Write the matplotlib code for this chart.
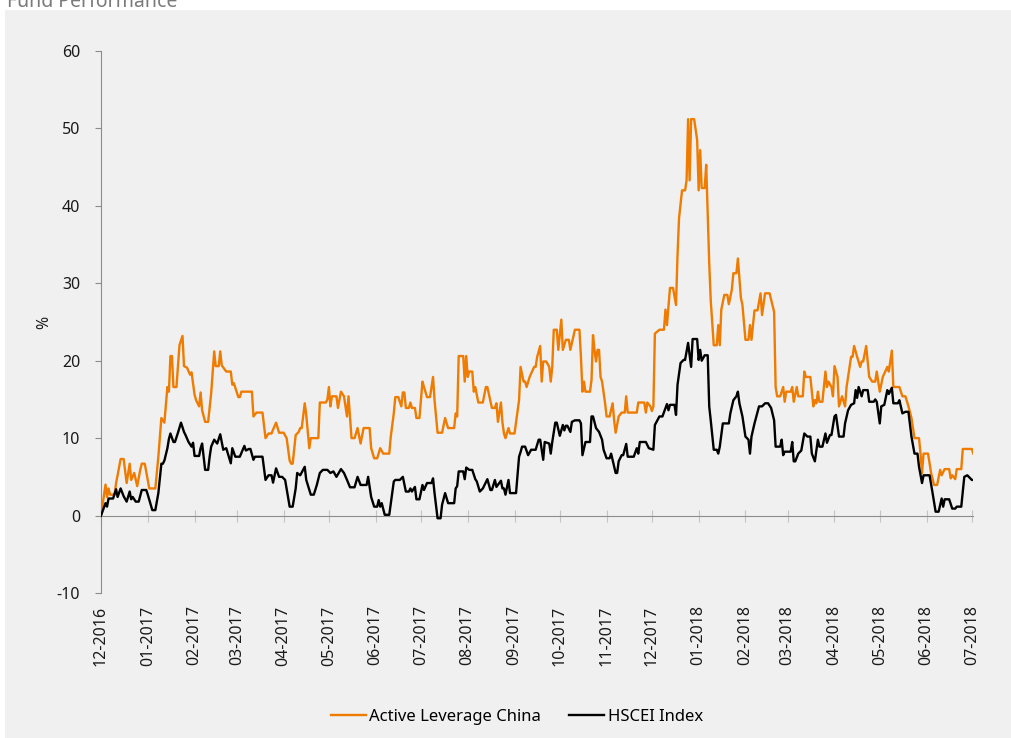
import pandas as pd
import matplotlib
matplotlib.use("Agg")
import matplotlib.pyplot as plt
import matplotlib.dates as mdates
from matplotlib.patches import Rectangle

plt.rcParams['font.family'] = ['Noto Sans', 'DejaVu Sans']
plt.rcParams['axes.unicode_minus'] = False

# data: days since 2016-12-01 and cumulative performance in %
start = pd.Timestamp('2016-12-01')

fund_days = [0, 3, 4, 5, 6, 9, 10, 11, 13, 15, 17, 19, 20, 22, 24, 26, 27, 29, 31, 32,
             36, 38, 40, 42, 44, 45, 46, 47, 48, 50, 52, 54, 55, 57, 59, 60, 62, 63, 65, 66,
             67, 69, 71, 73, 75, 76, 78, 79, 80, 83, 86, 87, 88, 91, 92, 93, 100, 101, 103, 107,
             109, 111, 113, 114, 116, 118, 121, 123, 125, 126, 127, 129, 131, 132, 133, 135, 136, 138, 139, 144,
             145, 149, 150, 151, 152, 153, 156, 157, 159, 161, 163, 164, 166, 168, 170, 172, 174, 178, 179, 181,
             183, 185, 187, 191, 192, 194, 195, 197, 199, 200, 201, 202, 204, 205, 206, 208, 209, 211, 213, 214,
             216, 218, 219, 220, 221, 223, 226, 228, 230, 234, 235, 236, 237, 240, 241, 242, 243, 244, 246, 247,
             248, 250, 253, 255, 256, 259, 261, 262, 263, 265, 266, 267, 268, 270, 271, 274, 277, 278, 280, 281,
             282, 284, 287, 288, 289, 291, 292, 293, 295, 297, 298, 299, 300, 302, 303, 305, 306, 308, 310, 311,
             314, 317, 318, 319, 320, 321, 324, 325, 326, 327, 328, 329, 330, 331, 332, 334, 335, 337, 339, 340,
             341, 343, 345, 347, 348, 349, 355, 356, 360, 361, 362, 364, 365, 366, 367, 370, 373, 374, 375, 377,
             379, 381, 382, 383, 385, 387, 388, 389, 390, 391, 393, 395, 396, 397, 398, 400, 401, 403, 404, 406,
             408, 409, 410, 411, 413, 415, 416, 418, 419, 421, 422, 424, 425, 427, 429, 430, 431, 433, 435, 437,
             438, 440, 443, 446, 447, 448, 450, 452, 453, 454, 457, 458, 459, 461, 462, 465, 466, 467, 470, 472,
             473, 474, 475, 476, 478, 480, 481, 482, 484, 485, 486, 488, 489, 491, 493, 494, 495, 497, 498, 499,
             501, 503, 504, 505, 507, 509, 511, 513, 514, 516, 518, 521, 522, 524, 525, 529, 531, 533, 535, 537,
             539, 542, 543, 544, 545, 548, 550, 552, 554, 556, 557, 559, 562, 563, 564, 566, 567, 570, 571, 577,
             578]
fund = [0.0, 4.0, 2.4, 3.5, 2.7, 2.7, 4.2, 5.2, 7.3, 7.3, 4.2, 6.7, 4.6, 5.5, 3.8, 5.9, 6.7, 6.7, 4.6, 3.5,
        3.5, 7.6, 12.6, 12.0, 16.6, 16.0, 20.6, 20.6, 16.6, 16.6, 22.0, 23.2, 19.3, 19.1, 18.2, 18.5, 15.6, 14.9, 14.1, 15.9,
        13.6, 12.1, 12.1, 15.8, 21.2, 19.3, 19.3, 21.2, 19.4, 18.6, 18.6, 16.9, 17.1, 15.3, 15.3, 16.0, 16.0, 12.8, 13.3, 13.3,
        10.0, 10.6, 10.6, 11.1, 12.0, 10.7, 10.7, 10.0, 7.1, 6.7, 6.7, 10.4, 10.8, 11.3, 11.3, 14.5, 13.0, 8.7, 10.0, 10.0,
        14.6, 14.6, 15.0, 16.6, 14.1, 15.4, 15.4, 13.9, 16.0, 15.4, 12.8, 15.4, 10.0, 10.0, 11.3, 9.3, 11.3, 11.3, 8.7, 7.4,
        7.4, 8.7, 8.0, 8.0, 10.2, 13.2, 15.3, 15.3, 14.1, 15.9, 15.9, 13.9, 13.9, 14.6, 13.9, 13.9, 12.6, 12.6, 17.3, 16.6,
        15.3, 15.3, 16.6, 17.9, 14.9, 10.7, 10.7, 12.6, 11.3, 11.3, 13.2, 12.8, 20.6, 20.6, 17.3, 20.6, 17.9, 18.6, 18.6, 16.0,
        16.6, 14.6, 14.6, 16.6, 16.6, 13.9, 13.9, 14.5, 12.1, 14.6, 12.0, 10.6, 10.0, 11.3, 10.6, 10.6, 14.9, 19.2, 17.3, 17.3,
        16.6, 17.9, 19.2, 19.2, 20.5, 21.9, 17.3, 19.9, 19.9, 19.2, 17.3, 19.2, 24.0, 24.0, 21.4, 25.3, 21.4, 22.7, 22.7, 21.4,
        24.0, 24.0, 20.5, 16.0, 17.3, 16.0, 16.0, 17.5, 23.3, 21.4, 19.9, 21.4, 21.4, 17.9, 17.3, 14.5, 12.8, 12.8, 14.5, 12.3,
        10.7, 12.8, 13.3, 13.3, 15.4, 13.3, 13.3, 14.6, 14.6, 13.3, 14.6, 14.1, 13.5, 14.1, 23.5, 24.0, 24.0, 26.6, 24.6, 29.4,
        29.4, 27.2, 33.7, 38.4, 42.0, 42.0, 43.3, 51.2, 43.3, 51.2, 51.2, 48.5, 42.0, 47.2, 42.3, 42.3, 45.3, 32.6, 27.8, 22.0,
        22.0, 24.6, 22.0, 26.6, 28.5, 28.5, 27.3, 29.2, 31.3, 31.3, 33.2, 28.1, 27.2, 22.7, 22.7, 24.6, 22.7, 26.5, 26.5, 28.7,
        25.9, 28.7, 28.7, 26.3, 16.6, 15.4, 15.4, 16.6, 14.7, 16.0, 16.0, 16.6, 14.7, 16.6, 15.4, 15.4, 18.6, 17.9, 17.9, 14.1,
        14.9, 14.5, 16.0, 14.7, 14.7, 18.6, 16.6, 17.3, 16.6, 15.4, 19.3, 17.9, 14.1, 15.4, 14.1, 16.6, 17.9, 20.5, 20.5, 21.9,
        20.5, 19.2, 19.9, 19.9, 21.9, 17.9, 17.3, 17.3, 18.6, 16.0, 17.9, 19.2, 18.6, 21.3, 16.6, 16.6, 15.4, 15.4, 14.1, 12.6,
        10.0, 10.0, 8.0, 5.5, 8.0, 8.0, 5.5, 3.95, 3.95, 5.9, 5.2, 6.0, 6.0, 4.8, 5.2, 4.7, 6.0, 6.0, 8.6, 8.6,
        8.0]

index_days = [0, 3, 4, 5, 8, 10, 11, 13, 15, 17, 19, 20, 21, 23, 25, 27, 30, 31, 34, 36,
              38, 40, 41, 42, 44, 45, 46, 48, 49, 51, 53, 55, 56, 58, 60, 61, 62, 65, 66, 67,
              69, 71, 72, 73, 75, 77, 79, 81, 83, 86, 87, 89, 92, 95, 96, 98, 99, 101, 102, 107,
              109, 111, 113, 114, 116, 118, 120, 122, 125, 127, 129, 130, 132, 135, 136, 139, 141, 143, 145, 147,
              150, 152, 154, 156, 159, 161, 163, 165, 168, 170, 172, 176, 177, 179, 181, 183, 184, 185, 186, 188,
              191, 194, 195, 198, 200, 202, 204, 205, 206, 208, 209, 211, 213, 214, 216, 219, 220, 221, 223, 225,
              226, 228, 230, 234, 235, 236, 237, 240, 241, 242, 244, 246, 248, 249, 251, 253, 256, 258, 259, 261,
              262, 265, 266, 267, 268, 270, 271, 275, 277, 278, 279, 281, 283, 285, 288, 290, 291, 293, 294, 297,
              298, 299, 301, 302, 304, 306, 307, 308, 309, 311, 312, 314, 317, 318, 319, 321, 324, 325, 326, 328,
              330, 332, 333, 335, 337, 338, 341, 342, 343, 345, 346, 348, 349, 353, 355, 356, 357, 361, 363, 366,
              367, 370, 372, 375, 376, 377, 380, 381, 382, 384, 386, 387, 389, 391, 392, 395, 396, 397, 398, 400,
              402, 403, 404, 406, 408, 409, 410, 412, 416, 417, 419, 421, 422, 423, 425, 427, 429, 430, 431, 433,
              436, 438, 440, 442, 444, 446, 447, 450, 451, 452, 453, 457, 458, 459, 460, 462, 464, 466, 468, 470,
              471, 473, 475, 476, 478, 480, 481, 483, 484, 486, 487, 489, 492, 493, 495, 497, 499, 500, 501, 502,
              504, 505, 508, 509, 512, 513, 514, 516, 517, 519, 521, 522, 524, 525, 528, 529, 531, 533, 535, 537,
              539, 541, 542, 544, 545, 549, 551, 553, 555, 557, 558, 559, 562, 564, 566, 567, 570, 572, 574, 577,
              578]
hscei = [0.0, 1.6, 1.15, 2.2, 2.2, 3.4, 2.4, 3.5, 2.5, 1.8, 3.1, 2.1, 2.4, 1.8, 1.8, 3.3, 3.3, 2.7, 0.7, 0.7,
         2.9, 6.7, 6.7, 7.1, 8.7, 9.9, 10.6, 9.5, 9.5, 10.7, 12.0, 10.8, 10.4, 9.5, 8.9, 9.4, 7.7, 7.7, 8.7, 9.3,
         5.9, 5.9, 7.6, 8.9, 9.8, 9.3, 10.5, 8.5, 8.7, 6.75, 8.7, 7.6, 7.6, 9.0, 8.4, 8.6, 8.6, 7.2, 7.6, 7.6,
         4.6, 5.2, 5.2, 4.25, 6.1, 5.0, 5.0, 4.6, 1.15, 1.15, 3.5, 5.5, 5.2, 6.3, 4.6, 2.7, 2.7, 3.95, 5.5, 5.9,
         5.9, 5.5, 5.7, 5.0, 6.0, 5.5, 4.6, 3.65, 3.65, 5.0, 3.95, 3.95, 5.0, 2.4, 1.15, 1.15, 2.0, 1.15, 1.6, 0.1,
         0.1, 4.4, 4.6, 4.6, 5.0, 3.1, 3.1, 3.5, 3.1, 3.7, 2.1, 2.1, 3.95, 3.3, 4.2, 4.2, 4.8, 2.9, -0.35, -0.35,
         1.4, 2.9, 1.6, 1.6, 3.5, 3.8, 5.7, 5.7, 4.7, 6.2, 5.9, 5.9, 4.7, 4.4, 3.1, 3.5, 4.7, 3.3, 3.3, 4.6,
         3.7, 4.5, 3.5, 3.5, 2.7, 4.6, 2.9, 2.9, 7.6, 8.2, 8.9, 8.9, 7.8, 8.5, 8.5, 9.8, 9.8, 7.2, 9.5, 9.3,
         8.0, 9.5, 12.0, 12.0, 10.3, 11.7, 11.0, 11.6, 11.6, 10.8, 12.1, 12.3, 12.3, 11.9, 7.8, 9.5, 9.5, 12.8, 12.8, 11.3,
         10.8, 9.8, 8.5, 7.4, 7.4, 8.0, 5.5, 5.5, 7.0, 7.8, 7.8, 9.25, 7.6, 7.6, 8.7, 8.0, 9.5, 9.5, 8.7, 8.5,
         11.7, 12.8, 12.8, 14.4, 13.6, 14.3, 14.3, 13.0, 16.9, 19.7, 20.1, 20.1, 22.3, 19.2, 22.8, 22.8, 20.1, 21.4, 20.0, 20.7,
         20.7, 14.1, 12.3, 8.5, 8.5, 8.0, 8.9, 11.9, 11.9, 13.2, 14.9, 15.4, 16.0, 14.5, 12.8, 10.2, 9.8, 8.0, 10.2, 11.9,
         14.1, 14.1, 14.5, 14.5, 13.9, 12.3, 8.9, 8.9, 9.8, 7.8, 8.25, 8.25, 9.5, 7.0, 7.0, 8.0, 8.4, 10.6, 10.2, 10.2,
         8.0, 7.0, 9.8, 8.9, 8.9, 10.6, 9.4, 10.4, 10.4, 12.8, 13.0, 10.2, 10.2, 11.9, 13.6, 14.3, 14.5, 16.2, 15.2, 16.6,
         15.4, 16.2, 16.2, 14.7, 14.7, 15.0, 14.7, 11.9, 14.1, 14.3, 16.2, 15.7, 16.5, 14.5, 14.5, 14.9, 13.2, 13.4, 13.4, 10.2,
         8.0, 8.0, 6.3, 4.2, 5.2, 5.2, 2.9, 0.5, 0.5, 2.2, 1.15, 2.1, 2.1, 0.9, 0.9, 1.15, 1.15, 5.0, 5.2, 4.6,
         4.6]

orange = '#ef7b00'
axis_grey = '#8c8c8c'

fund_dates = start + pd.to_timedelta(fund_days, unit='D')
index_dates = start + pd.to_timedelta(index_days, unit='D')

fig = plt.figure(figsize=(10.12, 7.38), dpi=100, facecolor='white')
# light grey panel behind everything
fig.patches.append(Rectangle((5 / 1012, 0), 1, 1 - 10 / 738, transform=fig.transFigure,
                             facecolor='#f0f0f0', edgecolor='none', zorder=-10))
fig.text(7 / 1012, 1 - 7 / 738, 'Fund Performance', fontsize=14, fontweight='bold',
         color='#7a7a7a', va='baseline', ha='left')

ax = fig.add_axes([0.0998, 0.1965, 0.862, 0.7344])
ax.set_facecolor('none')

ax.plot(fund_dates, fund, color=orange, lw=1.7, label='Active Leverage China', zorder=2)
ax.plot(index_dates, hscei, color='black', lw=1.7, label='HSCEI Index', zorder=3)

ax.set_ylim(-10, 60)
ax.set_yticks(range(-10, 61, 10))
ax.set_xlim(start, start + pd.Timedelta(days=578))

for side in ['top', 'right']:
    ax.spines[side].set_visible(False)
ax.spines['left'].set_color(axis_grey)
ax.spines['bottom'].set_color(axis_grey)
ax.spines['bottom'].set_position(('data', 0))

ax.tick_params(axis='y', direction='out', length=4, color=axis_grey, pad=11,
               labelsize=11.5, labelcolor='#1a1a1a')
ax.xaxis.set_major_locator(mdates.MonthLocator())
ax.tick_params(axis='x', direction='inout', length=9, color='#c4c4c4', labelbottom=False)
ax.set_ylabel('%', fontsize=11.5, color='#1a1a1a', labelpad=3)

# month labels sit at the bottom of the plot area
sec = ax.secondary_xaxis(0.0)
sec.xaxis.set_major_locator(mdates.MonthLocator())
sec.xaxis.set_major_formatter(mdates.DateFormatter('%m-%Y'))
sec.spines['bottom'].set_visible(False)
sec.tick_params(axis='x', length=0, pad=9, labelsize=11.5, labelcolor='#1a1a1a', labelrotation=90)

fig.legend(loc='center', bbox_to_anchor=(517 / 1012, 1 - 717 / 738), ncol=2, frameon=False,
           fontsize=12, handlelength=2.1, handletextpad=0.2, columnspacing=1.7)

fig.savefig('out.png', dpi=100, facecolor='white')
